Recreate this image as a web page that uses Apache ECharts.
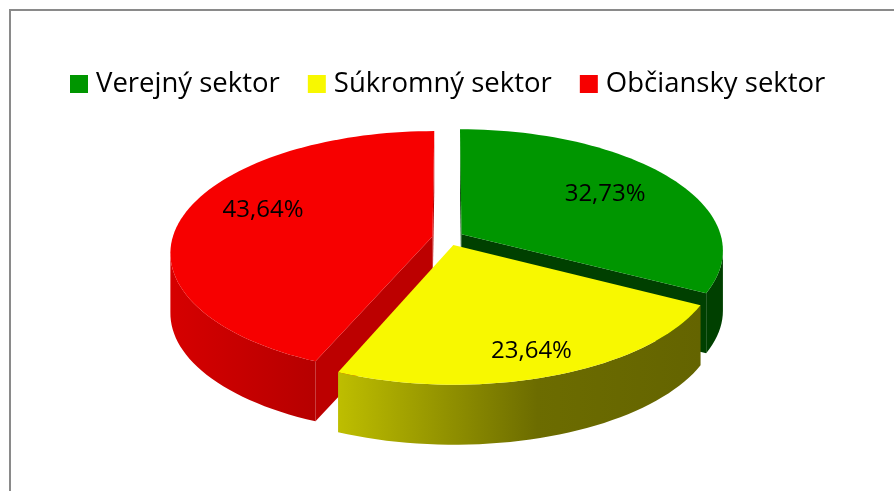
<!DOCTYPE html>
<html>
<head>
<meta charset="utf-8">
<script src="https://cdn.jsdelivr.net/npm/echarts@6/dist/echarts.min.js"></script>
<style>
  html, body { margin: 0; padding: 0; background: #fff; overflow: hidden; }
  #chart { width: 894px; height: 491px; }
</style>
</head>
<body>
<div id="chart"></div>
<script>
// data
const categories = ['Verejný sektor', 'Súkromný sektor', 'Občiansky sektor'];
const shares = [32.73, 23.64, 43.64];

// look of each slice (same order as categories)
const topColors = ['#009600', '#f8f800', '#f70000'];
const cutColors = ['#004000', '#8a8a00', '#bc0000'];
const wallStops = [
  [[0, '#004000'], [1, '#004000']],
  [[0, '#bebe00'], [0.55, '#6c6c00'], [1, '#646400']],
  [[0, '#d60000'], [1, '#b60000']]
];
// label spot on the top face: radius and angle shift (degrees) from the middle
const labelSpot = [[0.68, 0], [0.83, 1], [0.71, 7]];
const layer = [2, 4, 3];

// fake 3D camera
const CX = 448, CY = 238, S = 260;
const sinE = 0.46, cosE = Math.sqrt(1 - sinE * sinE);
const P = 0.147, H = 0.26, EXPLODE = 0.061;

const total = shares.reduce((a, b) => a + b, 0);

function project(x, y, z) {
  const w = 1 - P * z * cosE;
  return [CX + S * x / w, CY + S * z * sinE / w - S * y * cosE];
}

function area(pts) {
  let s = 0;
  for (let k = 0; k < pts.length; k++) {
    const a = pts[k], b = pts[(k + 1) % pts.length];
    s += a[0] * b[1] - b[0] * a[1];
  }
  return s;
}

function renderSlice(params, api) {
  const i = params.seriesIndex;
  let before = 0;
  for (let k = 0; k < i; k++) before += shares[k];
  const t0 = before / total * Math.PI * 2;
  const t1 = (before + shares[i]) / total * Math.PI * 2;
  const mid = (t0 + t1) / 2;
  const ox = EXPLODE * Math.sin(mid), oz = -EXPLODE * Math.cos(mid);

  const pt = (t, r, y) => project(ox + r * Math.sin(t), y, oz - r * Math.cos(t));

  const steps = Math.max(8, Math.round((t1 - t0) / (Math.PI * 2) * 180));
  const angles = [];
  for (let k = 0; k <= steps; k++) angles.push(t0 + (t1 - t0) * k / steps);

  const children = [];

  // the two cut faces
  const vTop = pt(0, 0, 0), vBot = pt(0, 0, -H);
  const startFace = [vTop, pt(t0, 1, 0), pt(t0, 1, -H), vBot];
  const endFace = [vTop, pt(t1, 1, 0), pt(t1, 1, -H), vBot];
  if (area(startFace) < 0) {
    children.push({ type: 'polygon', shape: { points: startFace }, style: { fill: cutColors[i] } });
  }
  if (area(endFace) > 0) {
    children.push({ type: 'polygon', shape: { points: endFace }, style: { fill: cutColors[i] } });
  }

  // the outer wall, front part only
  let first = -1, last = -1;
  for (let k = 0; k < steps; k++) {
    const q = [pt(angles[k], 1, 0), pt(angles[k + 1], 1, 0), pt(angles[k + 1], 1, -H), pt(angles[k], 1, -H)];
    if (area(q) < 0) {
      if (first < 0) first = k;
      last = k + 1;
    }
  }
  if (first >= 0) {
    const wall = [];
    for (let k = first; k <= last; k++) wall.push(pt(angles[k], 1, 0));
    for (let k = last; k >= first; k--) wall.push(pt(angles[k], 1, -H));
    children.push({
      type: 'polygon',
      shape: { points: wall },
      style: {
        fill: new echarts.graphic.LinearGradient(0, 0, 1, 0,
          wallStops[i].map(s => ({ offset: s[0], color: s[1] })))
      }
    });
  }

  // top face
  const top = [vTop];
  angles.forEach(t => top.push(pt(t, 1, 0)));
  children.push({ type: 'polygon', shape: { points: top }, style: { fill: topColors[i] } });

  // data label
  const lp = pt(mid + labelSpot[i][1] * Math.PI / 180, labelSpot[i][0], 0);
  children.push({
    type: 'text',
    x: lp[0], y: lp[1],
    style: {
      text: api.value(0).toFixed(2).replace('.', ',') + '%',
      fill: '#000',
      font: '24px "Open Sans"',
      align: 'center',
      verticalAlign: 'middle'
    }
  });

  return { type: 'group', children: children };
}

const chart = echarts.init(document.getElementById('chart'));
chart.setOption({
  animation: false,
  graphic: [{
    type: 'rect',
    shape: { x: 10, y: 10, width: 1000, height: 1000 },
    style: { fill: 'none', stroke: '#8a8a8a', lineWidth: 2 },
    silent: true
  }],
  legend: {
    data: categories,
    left: 70,
    top: 70,
    padding: 0,
    icon: 'rect',
    itemWidth: 18,
    itemHeight: 18,
    itemGap: 28,
    textStyle: {
      fontFamily: 'Open Sans',
      fontSize: 27.5,
      color: '#000',
      padding: [0, 0, 0, 3]
    },
    selectedMode: false
  },
  series: categories.map((name, i) => ({
    type: 'custom',
    name: name,
    coordinateSystem: 'none',
    z: layer[i],
    itemStyle: { color: topColors[i] },
    renderItem: renderSlice,
    data: [[shares[i]]]
  }))
});
</script>
</body>
</html>
